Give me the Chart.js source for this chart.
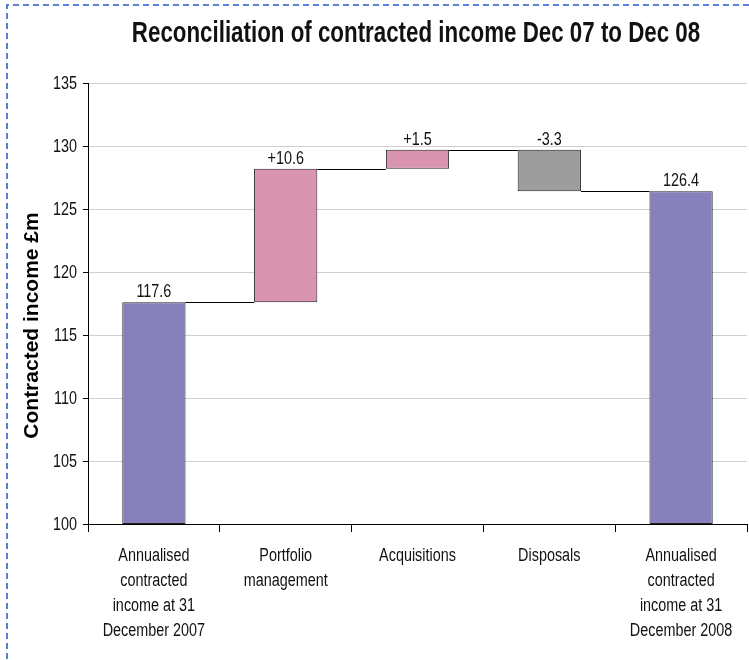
<!DOCTYPE html>
<html>
<head>
<meta charset="utf-8">
<script src="https://cdn.jsdelivr.net/npm/chart.js@4.4.1/dist/chart.umd.min.js"></script>
<style>
  html, body { margin: 0; padding: 0; background: #fff; }
  #wrap { width: 749px; height: 660px; position: relative; }
</style>
</head>
<body>
<div id="wrap"><canvas id="reconChart" width="749" height="660"></canvas></div>
<script>
// Data
const categories = [
    ['Annualised', 'contracted', 'income at 31', 'December 2007'],
    ['Portfolio', 'management'],
    ['Acquisitions'],
    ['Disposals'],
    ['Annualised', 'contracted', 'income at 31', 'December 2008']
];
const steps = [117.6, 10.6, 1.5, -3.3, 126.4];      // totals and movements (£m)
const isTotal = [true, false, false, false, true];
const stepLabels = ['117.6', '+10.6', '+1.5', '-3.3', '126.4'];
const barColors = ['#8781BB', '#D994B0', '#D994B0', '#9D9D9D', '#8781BB'];
const yTicks = [100, 105, 110, 115, 120, 125, 130, 135];

const chartTitle = 'Reconciliation of contracted income Dec 07 to Dec 08';
const yTitle = 'Contracted income £m';

const axisMin = yTicks[0];
const axisMax = yTicks[yTicks.length - 1];

// Build floating bars [low, high] from the running total
let running = 0;
const floating = steps.map((v, i) => {
    if (isTotal[i]) {
        running = v;
        return [axisMin, v];
    }
    const start = running;
    running += v;
    return [Math.min(start, running), Math.max(start, running)];
});
const levels = []; // running total after each bar, for the connector lines
running = 0;
steps.forEach((v, i) => { running = isTotal[i] ? v : running + v; levels.push(running); });

const sans = "'Liberation Sans', Arial, sans-serif";

// draw text squeezed horizontally (no Arial Narrow available)
function narrowText(ctx, text, x, y, align, squeeze) {
    ctx.save();
    ctx.translate(x, y);
    ctx.scale(squeeze || 0.8, 1);
    ctx.textAlign = align;
    ctx.fillText(text, 0, 0);
    ctx.restore();
}

const waterfallExtras = {
    id: 'waterfallExtras',
    afterDatasetsDraw(chart) {
        const { ctx } = chart;
        const meta = chart.getDatasetMeta(0);
        const y = chart.scales.y;
        ctx.save();
        // connectors between bars
        ctx.strokeStyle = '#000';
        ctx.lineWidth = 1;
        for (let i = 0; i < meta.data.length - 1; i++) {
            const a = meta.data[i], b = meta.data[i + 1];
            const py = Math.round(y.getPixelForValue(levels[i])) + 0.5;
            ctx.beginPath();
            ctx.moveTo(a.x + a.width / 2, py);
            ctx.lineTo(b.x - b.width / 2, py);
            ctx.stroke();
        }
        // value labels
        ctx.fillStyle = '#111';
        ctx.font = '18px ' + sans;
        ctx.textBaseline = 'alphabetic';
        meta.data.forEach((bar, i) => {
            const top = y.getPixelForValue(floating[i][1]);
            narrowText(ctx, stepLabels[i], bar.x, top - 5, 'center');
        });
        ctx.restore();
    },
    afterDraw(chart) {
        const { ctx, chartArea } = chart;
        const x = chart.scales.x, y = chart.scales.y;
        ctx.save();
        ctx.fillStyle = '#111';
        ctx.textBaseline = 'alphabetic';

        // title
        ctx.font = 'bold 29px ' + sans;
        narrowText(ctx, chartTitle, 416, 42, 'center', 0.77);

        // y tick labels
        ctx.font = '18px ' + sans;
        ctx.textBaseline = 'middle';
        yTicks.forEach(v => narrowText(ctx, String(v), chartArea.left - 11, y.getPixelForValue(v) + 1, 'right'));

        // x tick labels
        ctx.textBaseline = 'alphabetic';
        categories.forEach((lines, i) => {
            const cx = x.getPixelForValue(i);
            lines.forEach((t, j) => narrowText(ctx, t, cx, chartArea.bottom + 37 + j * 25, 'center'));
        });

        // y axis title
        ctx.fillStyle = '#000';
        ctx.font = 'bold 21px ' + sans;
        ctx.translate(38, (chartArea.top + chartArea.bottom) / 2 + 22);
        ctx.rotate(-Math.PI / 2);
        ctx.textAlign = 'center';
        ctx.fillText(yTitle, 0, 0);
        ctx.restore();

        // dashed page border along top and left
        ctx.save();
        ctx.strokeStyle = '#2457C5';
        ctx.lineWidth = 1.5;
        ctx.setLineDash([6, 4]);
        ctx.beginPath();
        ctx.moveTo(749, 5);
        ctx.lineTo(7, 5);
        ctx.lineTo(7, 660);
        ctx.stroke();
        ctx.restore();
    }
};

new Chart(document.getElementById('reconChart'), {
    type: 'bar',
    data: {
        labels: categories,
        datasets: [{
            data: floating,
            backgroundColor: barColors,
            borderColor: '#222',
            borderWidth: 1,
            borderSkipped: false,
            barPercentage: 0.96,
            categoryPercentage: 0.5
        }]
    },
    options: {
        responsive: false,
        animation: false,
        layout: { padding: { left: 0, right: 2, top: 83, bottom: 0 } },
        plugins: {
            legend: { display: false },
            tooltip: { enabled: false },
            title: { display: false }
        },
        scales: {
            x: {
                grid: { offset: true, drawOnChartArea: false, color: '#000', tickLength: 8 },
                border: { color: '#000' },
                ticks: { display: false },
                afterFit(scale) { scale.height = 136; }
            },
            y: {
                min: axisMin,
                max: axisMax,
                afterBuildTicks(scale) { scale.ticks = yTicks.map(v => ({ value: v })); },
                grid: { color: '#CFCFCF', tickColor: '#000', tickLength: 5 },
                border: { color: '#000' },
                ticks: { display: false },
                afterFit(scale) { scale.width = 88; }
            }
        }
    },
    plugins: [waterfallExtras]
});
</script>
</body>
</html>
